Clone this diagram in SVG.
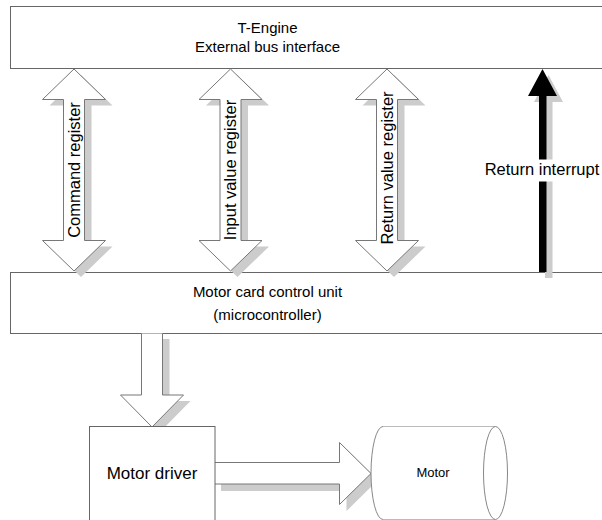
<svg xmlns="http://www.w3.org/2000/svg" width="602" height="520" viewBox="0 0 602 520">
  <style>
    .box { fill: #ffffff; stroke: #666666; stroke-width: 1; }
    .arrow { fill: #ffffff; stroke: #777777; stroke-width: 1; stroke-linejoin: miter; }
    .shadow { fill: #cccccc; stroke: none; }
    .lbl { font-family: "Liberation Sans", Arial, sans-serif; fill: #000000; text-anchor: middle; }
    .t15 { font-size: 15px; }
    .t16 { font-size: 16.5px; }
    .t17 { font-size: 17px; }
    .t13 { font-size: 13px; }
  </style>
  <defs>
    <!-- double-headed block arrow, centred on x=0, spanning y 69..271 -->
    <path id="dbl" d="M0,69 L31.5,99.5 L10.5,99.5 L10.5,240.5 L31.5,240.5 L0,271 L-31.5,240.5 L-10.5,240.5 L-10.5,99.5 L-31.5,99.5 Z"/>
    <!-- solid interrupt arrow -->
    <path id="irq" d="M542.5,69 L557,96 L546.5,96 L546.5,272 L539,272 L539,96 L528,96 Z"/>
  </defs>

  <rect width="602" height="520" fill="#ffffff"/>

  <g id="t-engine">
    <rect class="box" x="10.5" y="6.5" width="620" height="62"/>
    <text class="lbl t15" x="267.5" y="33">T-Engine</text>
    <text class="lbl t15" x="267.5" y="52">External bus interface</text>
  </g>

  <g id="control-unit">
    <rect class="box" x="10.5" y="272.5" width="620" height="61"/>
    <text class="lbl t15" x="267.5" y="297">Motor card control unit</text>
    <text class="lbl t15" x="267.5" y="320">(microcontroller)</text>
  </g>

  <g id="connectors">
    <!-- register paths between bus interface and control unit -->
    <g id="cmd-register">
      <use href="#dbl" class="shadow" transform="translate(81,6)"/>
      <use href="#dbl" class="arrow" transform="translate(74,0)"/>
      <text class="lbl t16" transform="translate(80,170) rotate(-90)">Command register</text>
    </g>
    <g id="input-register">
      <use href="#dbl" class="shadow" transform="translate(237.5,6)"/>
      <use href="#dbl" class="arrow" transform="translate(230.5,0)"/>
      <text class="lbl t16" transform="translate(236,170) rotate(-90)">Input value register</text>
    </g>
    <g id="return-register">
      <use href="#dbl" class="shadow" transform="translate(394,6)"/>
      <use href="#dbl" class="arrow" transform="translate(387,0)"/>
      <text class="lbl t16" transform="translate(393,168) rotate(-90)">Return value register</text>
    </g>
    <g id="return-interrupt">
      <use href="#irq" class="shadow" transform="translate(6,6)"/>
      <use href="#irq" fill="#000000"/>
      <rect x="478" y="159.5" width="124" height="22" fill="#ffffff"/>
      <text class="lbl t16" x="542" y="175">Return interrupt</text>
    </g>
    <!-- control unit to motor driver -->
    <g id="to-driver">
      <path class="shadow" d="M162.5,339 L169.5,339 L169.5,401 L190.5,401 L159,433 L127.5,401 L148.5,401 Z"/>
      <path class="arrow" d="M141.5,333.5 L141.5,395 L120.5,395 L152,427 L183.5,395 L162.5,395 L162.5,333.5"/>
    </g>
    <!-- motor driver to motor -->
    <g id="to-motor">
      <path class="shadow" d="M221,484 L346.5,484 L346.5,449 L378,480 L346.5,511 L346.5,491 L221,491 Z"/>
      <path class="arrow" d="M215,462.5 L339.5,462.5 L339.5,442.5 L371,473.5 L339.5,504.5 L339.5,484 L215,484"/>
    </g>
  </g>

  <g id="motor-driver">
    <rect class="box" x="89.5" y="426.5" width="125.5" height="120"/>
    <text class="lbl t17" x="152" y="479">Motor driver</text>
  </g>

  <g id="motor">
    <path d="M383,426.5 H495.5 V519.5 H383 A12,46.5 0 0 1 383,426.5 Z" fill="#ffffff" stroke="none"/>
    <line x1="383" y1="426.5" x2="495.5" y2="426.5" stroke="#bbbbbb"/>
    <line x1="383" y1="519.5" x2="495.5" y2="519.5" stroke="#bbbbbb"/>
    <path d="M383,519.5 A12,46.5 0 0 1 383,426.5" fill="none" stroke="#888888"/>
    <ellipse cx="495.5" cy="473" rx="12" ry="46.5" fill="none" stroke="#888888"/>
    <text class="lbl t13" x="433" y="477">Motor</text>
  </g>
</svg>
